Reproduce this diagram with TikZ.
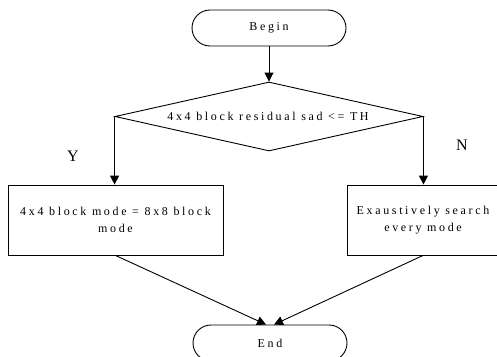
\documentclass[tikz,border=0pt]{standalone}
\usepackage{fontspec}
\setmainfont{Liberation Serif}
\newfontfamily\spaced[LetterSpace=22]{Liberation Serif}
\usetikzlibrary{shapes.geometric,arrows.meta}
\begin{document}
\begin{tikzpicture}[x=1pt,y=-1pt,
  every node/.style={font=\spaced\fontsize{12}{17}\selectfont},
  term/.style={draw,line width=0.9pt,rounded corners=18pt,minimum width=154pt,minimum height=36pt,inner sep=0pt},
  proc/.style={draw,line width=0.9pt,minimum height=70pt,inner sep=0pt,align=center},
  decision/.style={draw,diamond,line width=0.9pt,minimum width=308pt,minimum height=69pt,inner sep=0pt},
  conn/.style={line width=0.9pt,-{Triangle[width=9pt,length=9pt]}},
  lab/.style={font=\rmfamily\fontsize{16}{16}\selectfont}]
\useasboundingbox (0,0) rectangle (497,356);
\clip (0,0) rectangle (497,356);
\node[term] (begin) at (269,28) {Begin};
\node[decision] (dec) at (269,116.5) {};
\node at (268,116) {4x4 block residual sad <= TH};
\node[proc,minimum width=215pt] (yes) at (115.5,220) {4x4 block mode = 8x8 block\\mode};
\node[proc,minimum width=152pt] (no) at (423,220) {Exaustively search\\every mode};
\node[term] (end) at (270,343) {End};
\node[lab] (y) at (73,156) {Y};
\node[lab] (n) at (462,145) {N};
\draw[conn] (begin.south) -- (dec.north);
\draw[conn] (dec.west) -- (dec.west |- yes.north);
\draw[conn] (dec.east) -- (dec.east |- no.north);
\draw[conn] (yes.south) -- ([xshift=-4pt]end.north);
\draw[conn] (no.south) -- ([xshift=4pt]end.north);
\end{tikzpicture}
\end{document}
